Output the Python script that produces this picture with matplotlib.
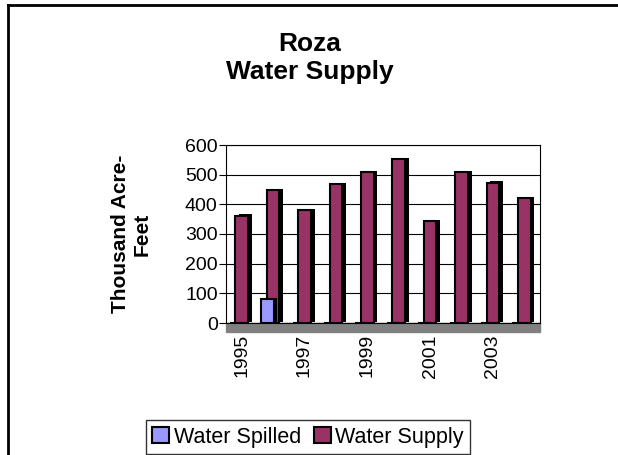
import matplotlib
matplotlib.use("Agg")
import matplotlib.pyplot as plt
import matplotlib.patches as mpatches
import numpy as np

plt.rcParams['font.family'] = ['Liberation Sans', 'DejaVu Sans']

years = [1995, 1996, 1997, 1998, 1999, 2000, 2001, 2002, 2003, 2004]
water_spilled = [0, 80, 0, 0, 0, 0, 0, 0, 0, 0]
water_supply = [362, 447, 380, 467, 510, 553, 343, 508, 473, 420]
yticks = [0, 100, 200, 300, 400, 500, 600]

supply_color = '#993366'
spilled_color = '#9999FF'

fig = plt.figure(figsize=(6.18, 4.55), dpi=100)
W, H = 618, 455
ax = fig.add_axes([226 / W, (H - 323) / H, (540 - 226) / W, 178 / H])

x = np.arange(len(years))
bw = 0.4
# 3D depth (dark side) drawn as shifted black bars
ax.bar(x + 0.12, water_supply, width=bw, bottom=4, color='black', zorder=3)
ax.bar(x, water_supply, width=bw, color=supply_color, edgecolor='black', linewidth=1.5, zorder=4,
       label='Water Supply')
ax.bar(x - 0.18 + 0.12, water_spilled, width=bw, bottom=4, color='black', zorder=5)
ax.bar(x - 0.18, water_spilled, width=bw, color=spilled_color, edgecolor='black', linewidth=1.5, zorder=6,
       label='Water Spilled')

# floor
floor = mpatches.Rectangle((0, -0.05), 1, 0.05, transform=ax.transAxes, color='#808080',
                           clip_on=False, zorder=2)
ax.add_patch(floor)

ax.set_xlim(-0.5, len(years) - 0.5)
ax.set_ylim(0, 600)
ax.set_yticks(yticks)
ax.set_yticklabels([str(t) for t in yticks], fontsize=14)
ax.yaxis.grid(True, color='black', linewidth=0.8)
ax.set_axisbelow(True)
ax.set_xticks(x)
ax.set_xticklabels([str(y) if i % 2 == 0 else '' for i, y in enumerate(years)],
                   rotation=90, fontsize=14)
ax.tick_params(axis='x', length=5, pad=3)
ax.tick_params(axis='y', length=5, pad=1)
for s in ax.spines.values():
    s.set_color('black')
    s.set_linewidth(0.8)

ax.set_ylabel('Thousand Acre-\nFeet', fontsize=15, fontweight='bold', labelpad=24)

fig.text(310 / W, 1 - 58 / H, 'Roza\nWater Supply', ha='center', va='center',
         fontsize=19, fontweight='bold', linespacing=1.2)

handles = [mpatches.Patch(facecolor=spilled_color, edgecolor='black', linewidth=1.5),
           mpatches.Patch(facecolor=supply_color, edgecolor='black', linewidth=1.5)]
leg = fig.legend(handles, ['Water Spilled', 'Water Supply'], loc='center',
                 bbox_to_anchor=(308 / W, 1 - 437 / H), ncol=2, fontsize=15.5,
                 frameon=True, fancybox=False, handlelength=0.8, handleheight=0.8,
                 handletextpad=0.2, columnspacing=0.6, borderpad=0.3, borderaxespad=0,
                 edgecolor='black')
leg.get_frame().set_linewidth(1.0)

# outer chart frame
fig.add_artist(plt.Line2D([8 / W, 8 / W], [0, 1 - 5 / H], color='black', linewidth=2,
                          transform=fig.transFigure))
fig.add_artist(plt.Line2D([8 / W, 1], [1 - 5 / H, 1 - 5 / H], color='black', linewidth=2,
                          transform=fig.transFigure))

fig.savefig('out.png', dpi=100)
